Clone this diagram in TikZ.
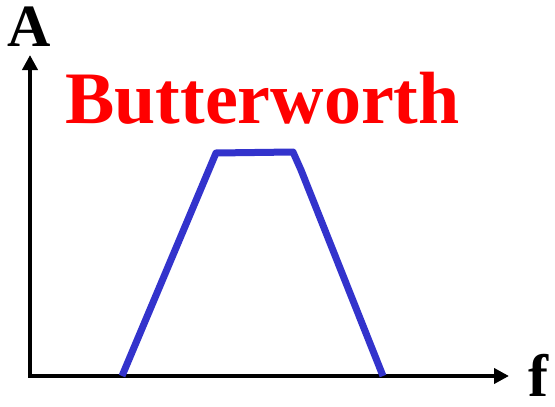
\documentclass[tikz,border=0pt]{standalone}
\usepackage{fontspec}
\setmainfont{Liberation Serif}
\usetikzlibrary{arrows.meta}
\definecolor{bandblue}{RGB}{51,51,204}

\begin{document}
\begin{tikzpicture}[
	x=1pt,
	y=-1pt,
	axis/.style={
		draw=black,
		line width=4pt,
		line cap=rect,
		-{Triangle[length=15pt,width=15pt]}
	},
	response/.style={
		draw=bandblue,
		line width=7pt,
		line join=round
	},
	axislabel/.style={
		font=\bfseries\fontsize{60}{60}\selectfont,
		inner sep=0pt,
		anchor=base
	},
	filtername/.style={
		font=\bfseries\fontsize{74}{74}\selectfont,
		text=red,
		inner sep=0pt,
		anchor=base
	}
	]
	
	\useasboundingbox (0,0) rectangle (555,407);
	
	% axes
	\coordinate (origin) at (30,376);
	\coordinate (ytip) at (30,55);
	\coordinate (xtip) at (509,376);
	\draw[axis] (origin) -- (ytip);
	\draw[axis] (origin) -- (xtip);
	
	\node[axislabel] (alabel) at (29.5,46) {A};
	\node[axislabel] (flabel) at (538,396) {f};
	
	\node[filtername] (name) at (262.5,123) {Butterworth};
	
	% band-pass shape
	\coordinate (lowstart) at (122,376);
	\coordinate (lowcorner) at (216,153);
	\coordinate (highcorner) at (293,152);
	\coordinate (kink) at (301,170);
	\coordinate (highend) at (383,376);
	\draw[response] (lowstart) -- (lowcorner) -- (highcorner) -- (kink) -- (highend);
\end{tikzpicture}
\end{document}
